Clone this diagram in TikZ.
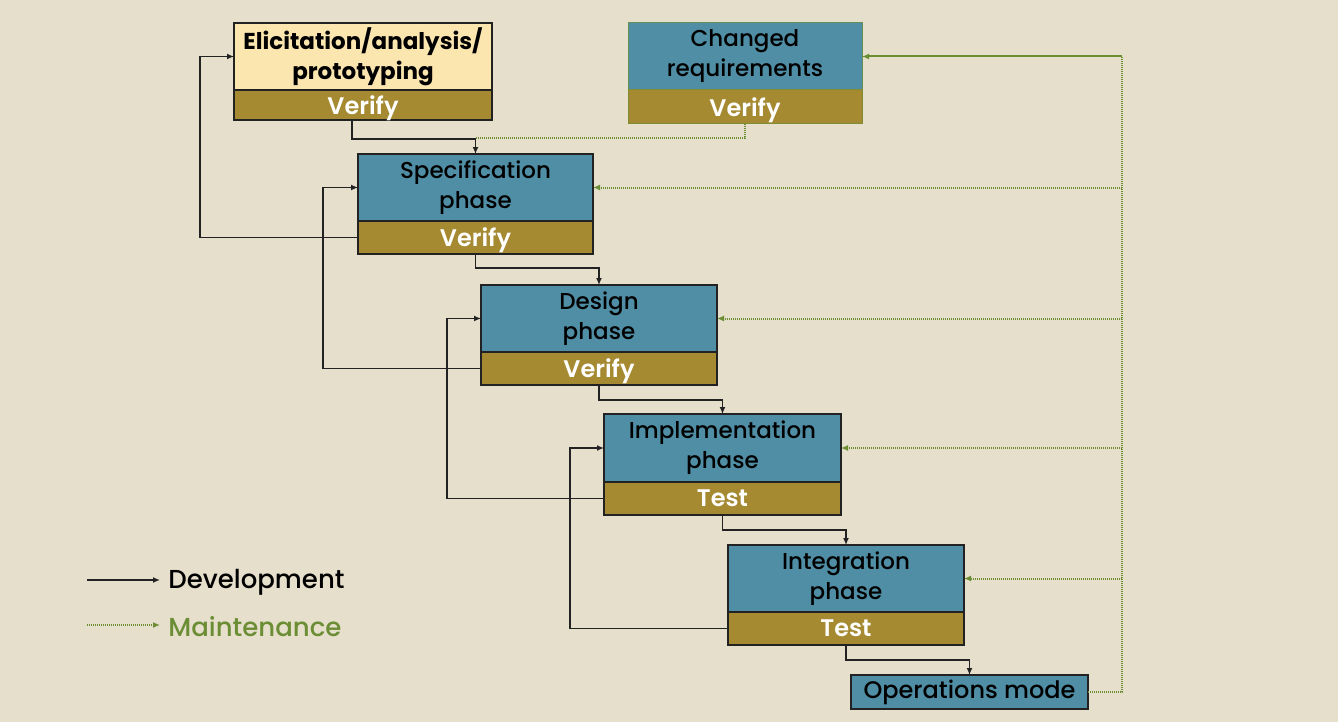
\documentclass[tikz,border=0pt]{standalone}
\usepackage{fontspec}
\setmainfont{Poppins}[UprightFont=* Medium, BoldFont=* SemiBold]
\newfontfamily\heavyfont{Poppins}[UprightFont=* Bold]
\usetikzlibrary{arrows.meta,calc}
\definecolor{bg}{HTML}{E6DFCB}
\definecolor{teal}{HTML}{4F8EA5}
\definecolor{olive}{HTML}{A58A32}
\definecolor{paleyel}{HTML}{FCE6AF}
\definecolor{mgreen}{HTML}{6B8E34}
\definecolor{bordk}{HTML}{222222}
\tikzset{
  box/.style={draw=bordk, line width=0.9pt, inner sep=0pt, outer sep=0pt, anchor=north west, align=center, font=\fontsize{11.5}{15}\selectfont},
  topbox/.style={box, fill=teal, text=black},
  chkbox/.style={box, fill=olive, text=white, text depth=0pt, font=\fontsize{12}{13}\selectfont\bfseries},
  dev/.style={draw=bordk, line width=0.9pt, -{Latex[length=3.5pt,width=3pt]}},
  mnt/.style={draw=mgreen, line width=1pt, dash pattern=on 0.6pt off 0.4pt, -{Latex[length=3.5pt,width=3pt]}},
  mntl/.style={draw=mgreen, line width=1pt, dash pattern=on 0.6pt off 0.4pt},
}
\begin{document}
\begin{tikzpicture}[x=0.5pt,y=-0.5pt]
\fill[bg] (0,0) rectangle (1338,722);
\useasboundingbox (0,0) rectangle (1338,722);
% boxes
\node[box, fill=paleyel, font=\fontsize{11.5}{15}\heavyfont, minimum width=129pt, minimum height=33.5pt] (elic) at (234,23) {Elicitation/analysis/\\prototyping};
\node[chkbox, minimum width=129pt, minimum height=15pt] (elicv) at (234,90) {Verify};
\node[topbox, draw=mgreen!70!teal, line width=0.5pt, minimum width=117pt, minimum height=33.5pt] (chg) at (628,23) {Changed\\requirements};
\node[chkbox, draw=mgreen!70!olive, line width=0.5pt, minimum width=117pt, minimum height=17pt] (chgv) at (628,90) {Verify};
\node[topbox, minimum width=117.5pt, minimum height=33.5pt] (spec) at (358,154) {Specification\\phase};
\node[chkbox, minimum width=117.5pt, minimum height=16.5pt] (specv) at (358,221) {Verify};
\node[topbox, minimum width=118pt, minimum height=33.5pt] (des) at (481,285) {Design\\phase};
\node[chkbox, minimum width=118pt, minimum height=16.5pt] (desv) at (481,352) {Verify};
\node[topbox, minimum width=118.5pt, minimum height=34pt] (impl) at (604,414) {Implementation\\phase};
\node[chkbox, minimum width=118.5pt, minimum height=16.5pt] (implv) at (604,482) {Test};
\node[topbox, minimum width=118pt, minimum height=33.5pt] (integ) at (728,545) {Integration\\phase};
\node[chkbox, minimum width=118pt, minimum height=16.5pt] (integv) at (728,612) {Test};
\node[topbox, minimum width=118.5pt, minimum height=17pt, font=\fontsize{12}{13}\selectfont] (ops) at (851,675) {Operations mode};
% development flow
\draw[dev] ([xshift=-5.5pt]elicv.south) -- ++(0,19) -| (spec.north);
\draw[dev] (specv.south) -- ++(0,14) -| (des.north);
\draw[dev] (desv.south) -- ++(0,15) -| (impl.north);
\draw[dev] (implv.south) -- ++(0,15) -| (integ.north);
\draw[dev] (integv.south) -- ++(0,15) -| (ops.north);
% feedback
\draw[dev] (specv.west) -- ++(-158,0) |- (elic.west);
\draw[dev] (desv.west) -- ++(-158,0) |- (spec.west);
\draw[dev] (implv.west) -- ++(-157,0) |- (des.west);
\draw[dev] (integv.west) -- ++(-158,0) |- (impl.west);
% maintenance
\coordinate (j1) at ([yshift=8pt]spec.north);
\draw[mntl] (chgv.south) -- ++(0,14) -| (j1);
\coordinate (bus) at ([xshift=17pt]ops.east);
\draw[mnt] (ops.east) -- (bus) |- (chg.east);
\draw[mnt] (bus |- spec.east) -- (spec.east);
\draw[mnt] (bus |- des.east) -- (des.east);
\draw[mnt] (bus |- impl.east) -- (impl.east);
\draw[mnt] (bus |- integ.east) -- (integ.east);
% legend
\coordinate (la1) at (87,580);
\coordinate (la2) at (160,580);
\coordinate (lb1) at (87,625);
\coordinate (lb2) at (160,625);
\draw[dev] (la1) -- (la2);
\draw[mnt] (lb1) -- (lb2);
\node[anchor=west, inner sep=0pt, font=\fontsize{13}{15}\selectfont, text=black] (ldev) at (168,582) {Development};
\node[anchor=west, inner sep=0pt, font=\fontsize{13}{15}\selectfont, text=mgreen] (lmnt) at (168,627) {Maintenance};
\end{tikzpicture}
\end{document}
